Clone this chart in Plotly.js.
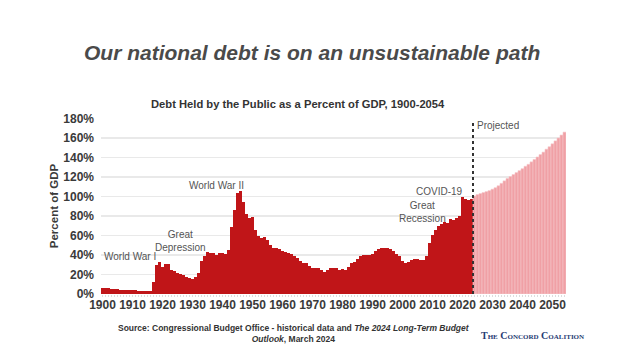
<!DOCTYPE html>
<html>
<head>
<meta charset="utf-8">
<script src="https://cdn.plot.ly/plotly-3.0.1.min.js"></script>
<style>
  html, body { margin: 0; padding: 0; background: #ffffff; }
  #chart { width: 624px; height: 352px; }
</style>
</head>
<body>
<div id="chart"></div>
<script>
// Debt held by the public, percent of GDP
const histStartYear = 1900;
const histDebt = [
  6.5, 6.1, 5.8, 5.5, 5.2, 4.9, 4.5, 4.2, 4.2, 4.2,      // 1900-1909
  3.8, 3.6, 3.4, 3.2, 3.2, 3.2, 2.7, 12.5, 30, 33,       // 1910-1919
  27.5, 31, 31, 25, 24, 22, 20.5, 19, 17.5, 16,          // 1920-1929
  15, 17.5, 22, 34, 38.5, 43, 42.5, 42.5, 40, 42,        // 1930-1939
  42.5, 41.5, 45.5, 69, 86, 104, 106, 94, 82.5, 77.5,    // 1940-1949
  78.5, 65.5, 60, 57, 58, 55.5, 50.5, 47, 47.5, 46.5,    // 1950-1959
  44.5, 43.5, 42, 41, 38.5, 36.5, 33.5, 31.5, 32, 28.5,  // 1960-1969
  27, 27, 26.5, 25, 23, 24.5, 26.5, 27, 26.5, 25,        // 1970-1979
  25.5, 25, 28, 32, 33, 35.5, 38.5, 39.5, 40, 39.5,      // 1980-1989
  41, 44, 46.5, 47.5, 47.5, 47.5, 46.5, 44.5, 41.5, 38.5,// 1990-1999
  33.5, 31.5, 32.5, 34.5, 35.5, 35.5, 35, 35, 39, 52,    // 2000-2009
  61, 66, 70, 72, 73.5, 72.5, 76.5, 76, 77.5, 79.5,      // 2010-2019
  99, 97, 96, 97                                         // 2020-2023
];
const projStartYear = 2024;
const projDebt = [
  100.5, 102, 103, 104, 105, 106, 107.5, 109, 111, 113.5, // 2024-2033
  116, 118.5, 120.5, 122.5, 124.5, 126.5, 128.5, 131, 133, 135.5, // 2034-2043
  138, 140.5, 143, 145.5, 148.5, 151, 154, 157, 160, 163, // 2044-2053
  166                                                    // 2054
];
const yTickVals = [0, 20, 40, 60, 80, 100, 120, 140, 160, 180];
const yTickText = ["0%", "20%", "40%", "60%", "80%", "100%", "120%", "140%", "160%", "180%"];
const xTickVals = [1900, 1910, 1920, 1930, 1940, 1950, 1960, 1970, 1980, 1990, 2000, 2010, 2020, 2030, 2040, 2050];
const xTickText = xTickVals.map(String);

const histYears = histDebt.map((_, i) => histStartYear + i);
const projYears = projDebt.map((_, i) => projStartYear + i);
const boundary = projStartYear - 0.5;

const txtFont = {family: "Liberation Sans, Arial, sans-serif", size: 10, color: "#555555"};

const traces = [
  {
    type: "bar", x: histYears, y: histDebt, width: 1,
    marker: {color: "#c01518", line: {width: 0}},
    hoverinfo: "x+y", showlegend: false
  },
  {
    type: "bar", x: projYears, y: projDebt, width: 1,
    marker: {color: "#f0a0a5", line: {width: 0.6, color: "#f7c8cb"}},
    hoverinfo: "x+y", showlegend: false
  }
];

const layout = {
  width: 624, height: 352,
  paper_bgcolor: "#ffffff", plot_bgcolor: "#ffffff",
  margin: {l: 101, r: 58, t: 118, b: 58},
  barmode: "overlay", bargap: 0,
  showlegend: false,
  font: {family: "Liberation Sans, Arial, sans-serif", color: "#444444"},
  xaxis: {
    range: [1899.5, 2054.5],
    tickmode: "array", tickvals: xTickVals, ticktext: xTickText,
    tickfont: {size: 12, color: "#3a3a3a", weight: "bold"},
    showgrid: false, zeroline: false, showline: false,
    ticks: "", ticklabelstandoff: 2,
    minor: {dtick: 1, ticks: "outside", ticklen: 2, tickcolor: "#dddddd", tickwidth: 1, showgrid: false},
    fixedrange: true
  },
  yaxis: {
    range: [0, 180.5],
    tickmode: "array", tickvals: yTickVals, ticktext: yTickText,
    tickfont: {size: 12, color: "#3a3a3a", weight: "bold"},
    showgrid: true, gridcolor: "#e9e9e9", gridwidth: 1.5,
    zeroline: false, showline: false, ticks: "",
    ticklabelstandoff: 6,
    title: {text: "Percent of GDP", font: {size: 11.5, color: "#3a3a3a", weight: "bold"}, standoff: 2},
    fixedrange: true
  },
  shapes: [
    {
      type: "line", xref: "x", yref: "y",
      x0: boundary, x1: boundary, y0: 0, y1: 178,
      line: {color: "#333333", width: 2, dash: "dot"}
    }
  ],
  annotations: [
    {xref: "paper", yref: "paper", x: 0.5, y: 1, xanchor: "center", yanchor: "middle", showarrow: false,
     text: "<b><i>Our national debt is on an unsustainable path</i></b>", font: {family: "Liberation Sans, Arial, sans-serif", size: 21, color: "#4a4a4a"}},
    {xref: "paper", yref: "paper", x: 0.5, y: 1, xanchor: "center", yanchor: "middle", showarrow: false,
     text: "<b>Debt Held by the Public as a Percent of GDP, 1900-2054</b>", font: {family: "Liberation Sans, Arial, sans-serif", size: 11.2, color: "#333333"}},
    {xref: "x", yref: "y", x: 1909, y: 38, showarrow: false, text: "World War I", font: txtFont},
    {xref: "x", yref: "y", x: 1926, y: 54, showarrow: false, text: "Great<br>Depression", font: txtFont},
    {xref: "x", yref: "y", x: 1938, y: 111, showarrow: false, text: "World War II", font: txtFont},
    {xref: "x", yref: "y", x: 2006.7, y: 84, showarrow: false, text: "Great<br>Recession", font: txtFont},
    {xref: "x", yref: "y", x: 2012.4, y: 105, showarrow: false, text: "COVID-19", font: txtFont},
    {xref: "x", yref: "y", x: boundary + 0.8, y: 173, xanchor: "left", showarrow: false, text: "Projected", font: txtFont},
    {xref: "paper", yref: "paper", x: 0.5, y: 0, xanchor: "center", yanchor: "middle", showarrow: false,
     text: "<b>Source: Congressional Budget Office - historical data and <i>The 2024 Long-Term Budget</i><br><i>Outlook</i>, March 2024</b>",
     font: {family: "Liberation Sans, Arial, sans-serif", size: 8.5, color: "#333333"}},
    {xref: "paper", yref: "paper", x: 0.5, y: 0, xanchor: "center", yanchor: "middle", showarrow: false,
     text: "<b>The Concord Coalition</b>",
     font: {family: "Liberation Serif, Times New Roman, serif", size: 10, color: "#1f3b73", variant: "small-caps"}}
  ]
};

// place paper-level texts at pixel positions
const plotW = 624 - layout.margin.l - layout.margin.r;
const plotH = 352 - layout.margin.t - layout.margin.b;
function px2paperX(px) { return (px - layout.margin.l) / plotW; }
function px2paperY(py) { return (352 - layout.margin.b - py) / plotH; }
layout.annotations[0].x = px2paperX(312); layout.annotations[0].y = px2paperY(52);
layout.annotations[1].x = px2paperX(298); layout.annotations[1].y = px2paperY(104);
layout.annotations[8].x = px2paperX(294); layout.annotations[8].y = px2paperY(333);
layout.annotations[9].x = px2paperX(532); layout.annotations[9].y = px2paperY(335);

Plotly.newPlot("chart", traces, layout, {displayModeBar: false, staticPlot: true});
</script>
</body>
</html>
